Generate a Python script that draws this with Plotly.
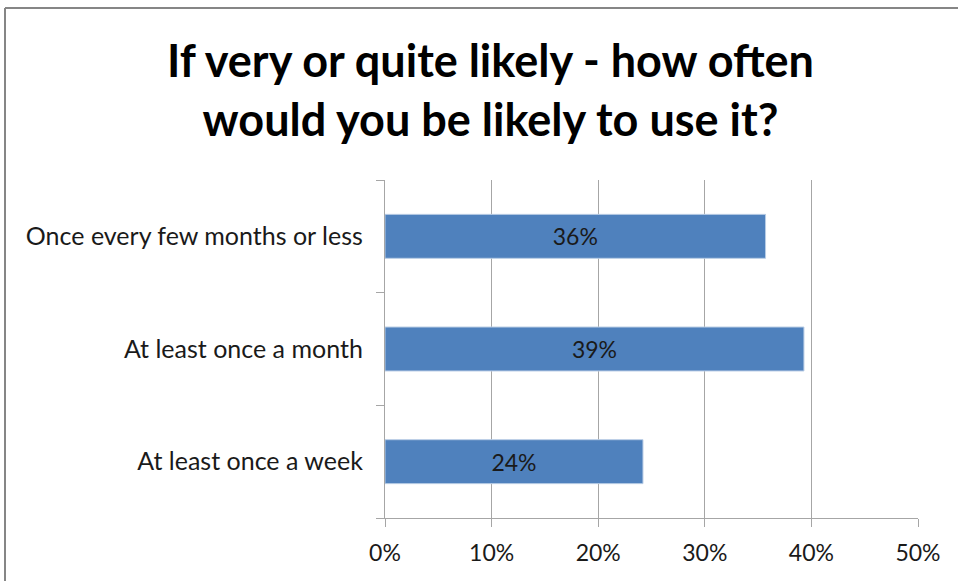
import plotly.graph_objects as go

# Survey responses (share of respondents), listed bottom to top
categories = ["At least once a week", "At least once a month", "Once every few months or less"]
shares = [0.242, 0.393, 0.357]

x_ticks = [0, 0.1, 0.2, 0.3, 0.4, 0.5]
x_tick_labels = ["0%", "10%", "20%", "30%", "40%", "50%"]

title_text = "If very or quite likely - how often<br>would you be likely to use it?"

FONT = "Lato, 'Open Sans', sans-serif"
GRID = "#A6A6A6"
TEXT = "#1A1A1A"
FRAME = "#868686"

fig = go.Figure(
    go.Bar(
        y=categories,
        x=shares,
        orientation="h",
        marker=dict(color="#4F81BD", line=dict(color="#B9CDE5", width=1)),
        texttemplate="%{x:.0%}",
        textposition="inside",
        insidetextanchor="middle",
        textfont=dict(family=FONT, size=23, color=TEXT),
        hoverinfo="skip",
    )
)

# plot-area pixel geometry
L, R, T, B = 385, 40, 180, 63
W, H = 958, 581
pw, ph = W - L - R, H - T - B


def px_x(px):
    return (px - L) / pw


def px_y(py):
    return (H - B - py) / ph


fig.update_layout(
    width=W,
    height=H,
    margin=dict(l=L, r=R, t=T, b=B, pad=0),
    paper_bgcolor="white",
    plot_bgcolor="white",
    showlegend=False,
    bargap=0.61,
    font=dict(family=FONT, size=23, color=TEXT),
    xaxis=dict(
        range=[0, 0.5],
        tickvals=x_ticks,
        ticktext=x_tick_labels,
        showgrid=True,
        gridcolor=GRID,
        gridwidth=1.3,
        zeroline=False,
        showline=True,
        linecolor=GRID,
        linewidth=1.3,
        ticks="outside",
        ticklen=8,
        tickcolor=GRID,
        tickwidth=1.3,
        ticklabelstandoff=6,
        tickfont=dict(family=FONT, size=23, color=TEXT),
        fixedrange=True,
    ),
    yaxis=dict(
        showgrid=False,
        zeroline=False,
        showline=True,
        linecolor=GRID,
        linewidth=1.3,
        ticks="outside",
        tickson="boundaries",
        ticklen=8,
        tickcolor=GRID,
        tickwidth=1.3,
        ticklabelstandoff=16,
        tickfont=dict(family=FONT, size=25, color=TEXT),
        fixedrange=True,
    ),
    annotations=[
        dict(
            text=title_text,
            xref="paper",
            yref="paper",
            x=px_x(490),
            y=px_y(89),
            xanchor="center",
            yanchor="middle",
            showarrow=False,
            font=dict(family=FONT, size=45, color="#000000", weight="bold"),
        )
    ],
    shapes=[
        # outer chart frame: top edge and left edge
        dict(
            type="line", xref="paper", yref="paper",
            x0=px_x(5), x1=px_x(W), y0=px_y(8), y1=px_y(8),
            line=dict(color=FRAME, width=2), layer="below",
        ),
        dict(
            type="line", xref="paper", yref="paper",
            x0=px_x(5), x1=px_x(5), y0=px_y(8), y1=px_y(H),
            line=dict(color=FRAME, width=2), layer="below",
        ),
    ],
)

fig.write_html("out.html", config={"displayModeBar": False})
